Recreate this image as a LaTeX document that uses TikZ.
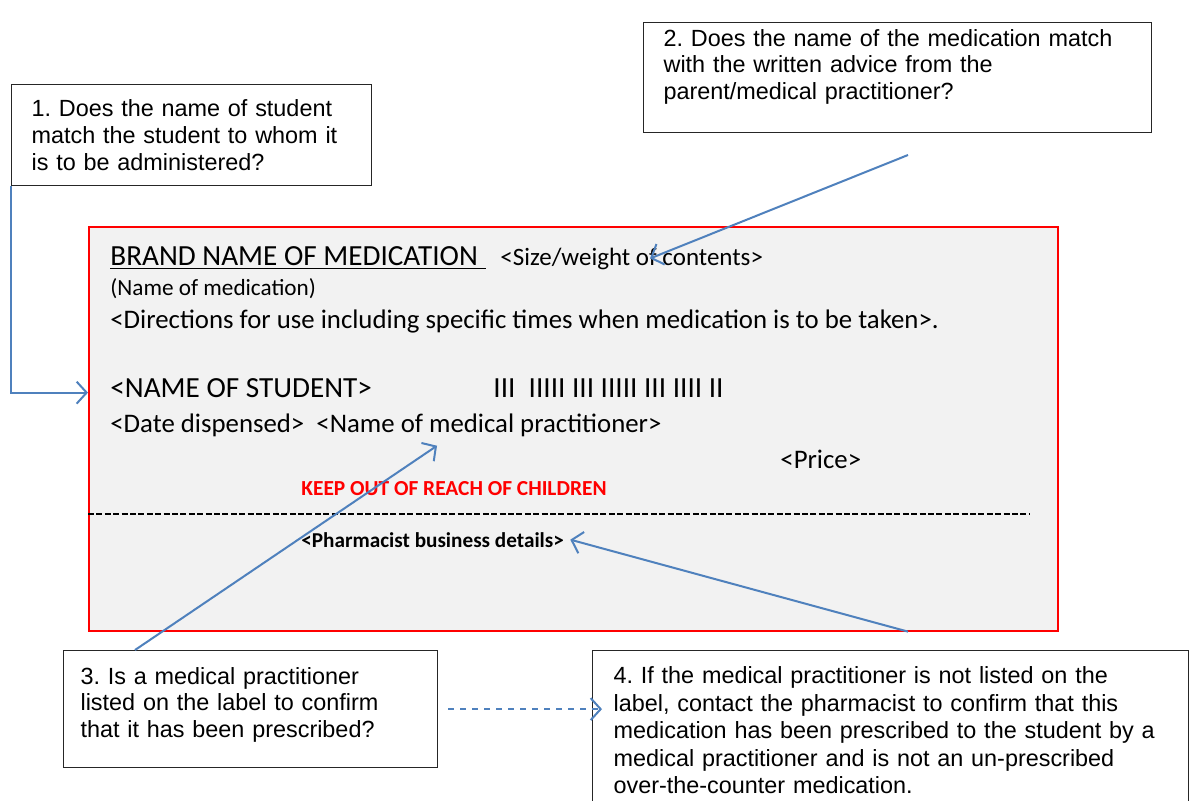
\documentclass[tikz,border=0pt]{standalone}
\usepackage{fontspec}
\setmainfont{Liberation Sans}
\newfontfamily\calibri{Carlito}
\usetikzlibrary{arrows.meta}
\definecolor{arrowblue}{RGB}{79,129,189}
\definecolor{labelgray}{RGB}{242,242,242}
\tikzset{
  qbox/.style={draw=black!85, line width=0.6pt, fill=white, anchor=north west,
    align=left, inner xsep=10pt, font=\fontsize{11.7}{13.3}\selectfont},
  arr/.style={draw=arrowblue, line width=1pt, -{Straight Barb[length=5pt,width=11pt]}},
  ltext/.style={anchor=base west, inner sep=0pt, font=\calibri}
}
\frenchspacing

\begin{document}
\begin{tikzpicture}[x=0.5pt, y=-0.5pt]
            \useasboundingbox (0,0) rectangle (1192,800);
            \clip (0,0) rectangle (1192,800);
            \fill[white] (0,0) rectangle (1192,800);

            \node [qbox, text width=160pt, minimum height=50.5pt] (q1) at (11,84)
                {1. Does the name of student\\ match the student to whom it\\ is to be administered?};
            \node [qbox, text width=234pt, minimum height=51.5pt] (q2) at (643,22)
                {2. Does the name of the medication match\\ with the written advice from the\\ parent/medical practitioner?\\ \mbox{}};
            \node [qbox, text width=170pt, inner xsep=8.5pt, minimum height=58.5pt] (q3) at (63,650)
                {3. Is a medical practitioner\\ listed on the label to confirm\\ that it has been prescribed?\\[-6.5pt] \mbox{}};
            \node [qbox, text width=277pt, inner xsep=10.5pt, minimum height=80pt,
                font=\fontsize{11.7}{13.75}\selectfont] (q4) at (592,650)
                {4. If the medical practitioner is not listed on the\\ label, contact the pharmacist to confirm that this\\ medication has been prescribed to the student by a\\ medical practitioner and is not an un-prescribed\\ over-the-counter medication.};

            \node [draw=red, line width=0.8pt, fill=labelgray, anchor=north west,
                minimum width=484.5pt, minimum height=202pt, inner sep=0pt] (label) at (88,226) {};

            \node [ltext, font=\calibri\fontsize{14.6}{16}\selectfont] (brand) at (110,265)
                {\underline{BRAND NAME OF MEDICATION\hspace{4pt}}};
            \node [ltext, font=\calibri\fontsize{12.5}{14}\selectfont] (size) at (500,265) {<Size/weight of contents>};
            \node [ltext, font=\calibri\fontsize{11.6}{13}\selectfont] (medname) at (110,295) {(Name of medication)};
            \node [ltext, font=\calibri\fontsize{13.4}{15}\selectfont] (directions) at (110,328)
                {<Directions for use including specific times when medication is to be taken>.};
            \node [ltext, font=\calibri\fontsize{14.6}{16}\selectfont] (student) at (110,397) {<NAME OF STUDENT>};
            \node [ltext, font=\calibri\fontsize{14.6}{16}\selectfont] (bars) at (493,397) {III\ \ IIIII III IIIII III IIII II};
            \node [ltext, font=\calibri\fontsize{13.4}{15}\selectfont] (dates) at (110,432)
                {<Date dispensed>\ \ <Name of medical practitioner>};
            \node [ltext, font=\calibri\fontsize{13.4}{15}\selectfont] (price) at (780,468) {<Price>};
            \node [ltext, text=red, font=\calibri\bfseries\fontsize{10.7}{12}\selectfont] (keep) at (301,495)
                {KEEP OUT OF REACH OF CHILDREN};
            \draw [black, line width=0.6pt, dash pattern=on 3pt off 1.2pt] (label.west |- 0,514) -- (1030,514);
            \node [ltext, font=\calibri\bfseries\fontsize{10.6}{12}\selectfont] (pharm) at (301,547)
                {<Pharmacist business details>};

            \coordinate (q2tail) at (908,155);
            \coordinate (sline) at ([yshift=-2.5pt]student.west);
            \draw [arr] (q1.south west) -- (q1.south west |- sline) -- (label.west |- sline);
            \draw [arr] (q2tail) -- ([xshift=75pt]size.west);
            \draw [arr] ([xshift=36pt]q3.north west) -- ([xshift=163.5pt,yshift=-4.5pt]dates.south west);
            \draw [arr] ([xshift=410pt]label.south west) -- ([xshift=3pt]pharm.east);
            \draw [arr, dashed] ([xshift=5pt]q3.east) -- ([xshift=5pt]q3.east -| q4.west);
        \end{tikzpicture}
\end{document}
